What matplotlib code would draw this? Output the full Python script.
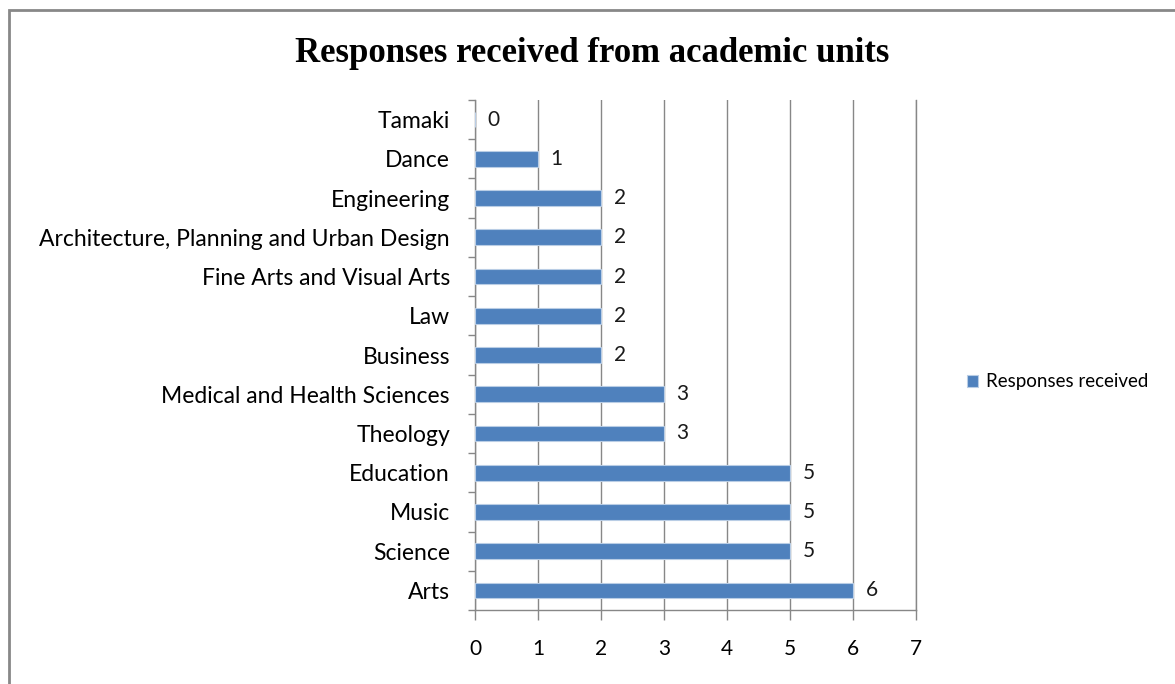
import numpy as np
import matplotlib
matplotlib.use('Agg')
import matplotlib.pyplot as plt
from matplotlib.patches import Rectangle

units = ['Tamaki', 'Dance', 'Engineering', 'Architecture, Planning and Urban Design',
         'Fine Arts and Visual Arts', 'Law', 'Business', 'Medical and Health Sciences',
         'Theology', 'Education', 'Music', 'Science', 'Arts']
responses = [0, 1, 2, 2, 2, 2, 2, 3, 3, 5, 5, 5, 6]
x_ticks = [0, 1, 2, 3, 4, 5, 6, 7]

plt.rcParams['font.family'] = ['Lato', 'DejaVu Sans']

fig = plt.figure(figsize=(11.75, 6.84), dpi=100)
ax = fig.add_axes([475 / 1175, 1 - 610 / 684, (916 - 475) / 1175, (610 - 100) / 684])

y = np.arange(len(units))
bars = ax.barh(y, responses, height=0.4, color='#4f81bd', edgecolor='#b9cde5',
               linewidth=0.8, label='Responses received', zorder=3)
for yi, v in zip(y, responses):
    ax.text(v + 0.2, yi, str(v), va='center', ha='left', fontsize=15, color='#1a1a1a')

ax.set_ylim(len(units) - 0.5, -0.5)
ax.set_xlim(0, 7)
ax.set_xticks(x_ticks)
ax.set_xticklabels([str(t) for t in x_ticks], fontsize=15)
ax.set_yticks(y)
ax.set_yticklabels(units, fontsize=16.5)
ax.set_yticks(np.arange(len(units) + 1) - 0.5, minor=True)
ax.tick_params(axis='y', which='major', length=0, pad=18)
ax.tick_params(axis='y', which='minor', length=5, color='#878787', width=1)
ax.tick_params(axis='x', which='major', length=7, color='#878787', width=1, pad=14)

ax.grid(axis='x', color='#878787', linewidth=1, zorder=0)
ax.set_axisbelow(True)
ax.spines['top'].set_visible(False)
for s in ['left', 'bottom', 'right']:
    ax.spines[s].set_color('#878787')
    ax.spines[s].set_linewidth(1)

fig.text(592 / 1175, 1 - 53 / 684, 'Responses received from academic units',
         ha='center', va='center', fontsize=25, fontweight='bold',
         family=['Liberation Serif', 'DejaVu Serif'])

fig.legend(handles=[bars], loc='center left', bbox_to_anchor=(950 / 1175, 1 - 382 / 684),
           frameon=False, fontsize=13.5, handlelength=0.6, handleheight=0.6,
           handletextpad=0.4)

fig.patches.append(Rectangle((9 / 1175, -0.1), 1.2, 1 - 10 / 684 + 0.1,
                             transform=fig.transFigure, fill=False,
                             edgecolor='#888888', linewidth=2))

fig.savefig('out.png', dpi=100)
